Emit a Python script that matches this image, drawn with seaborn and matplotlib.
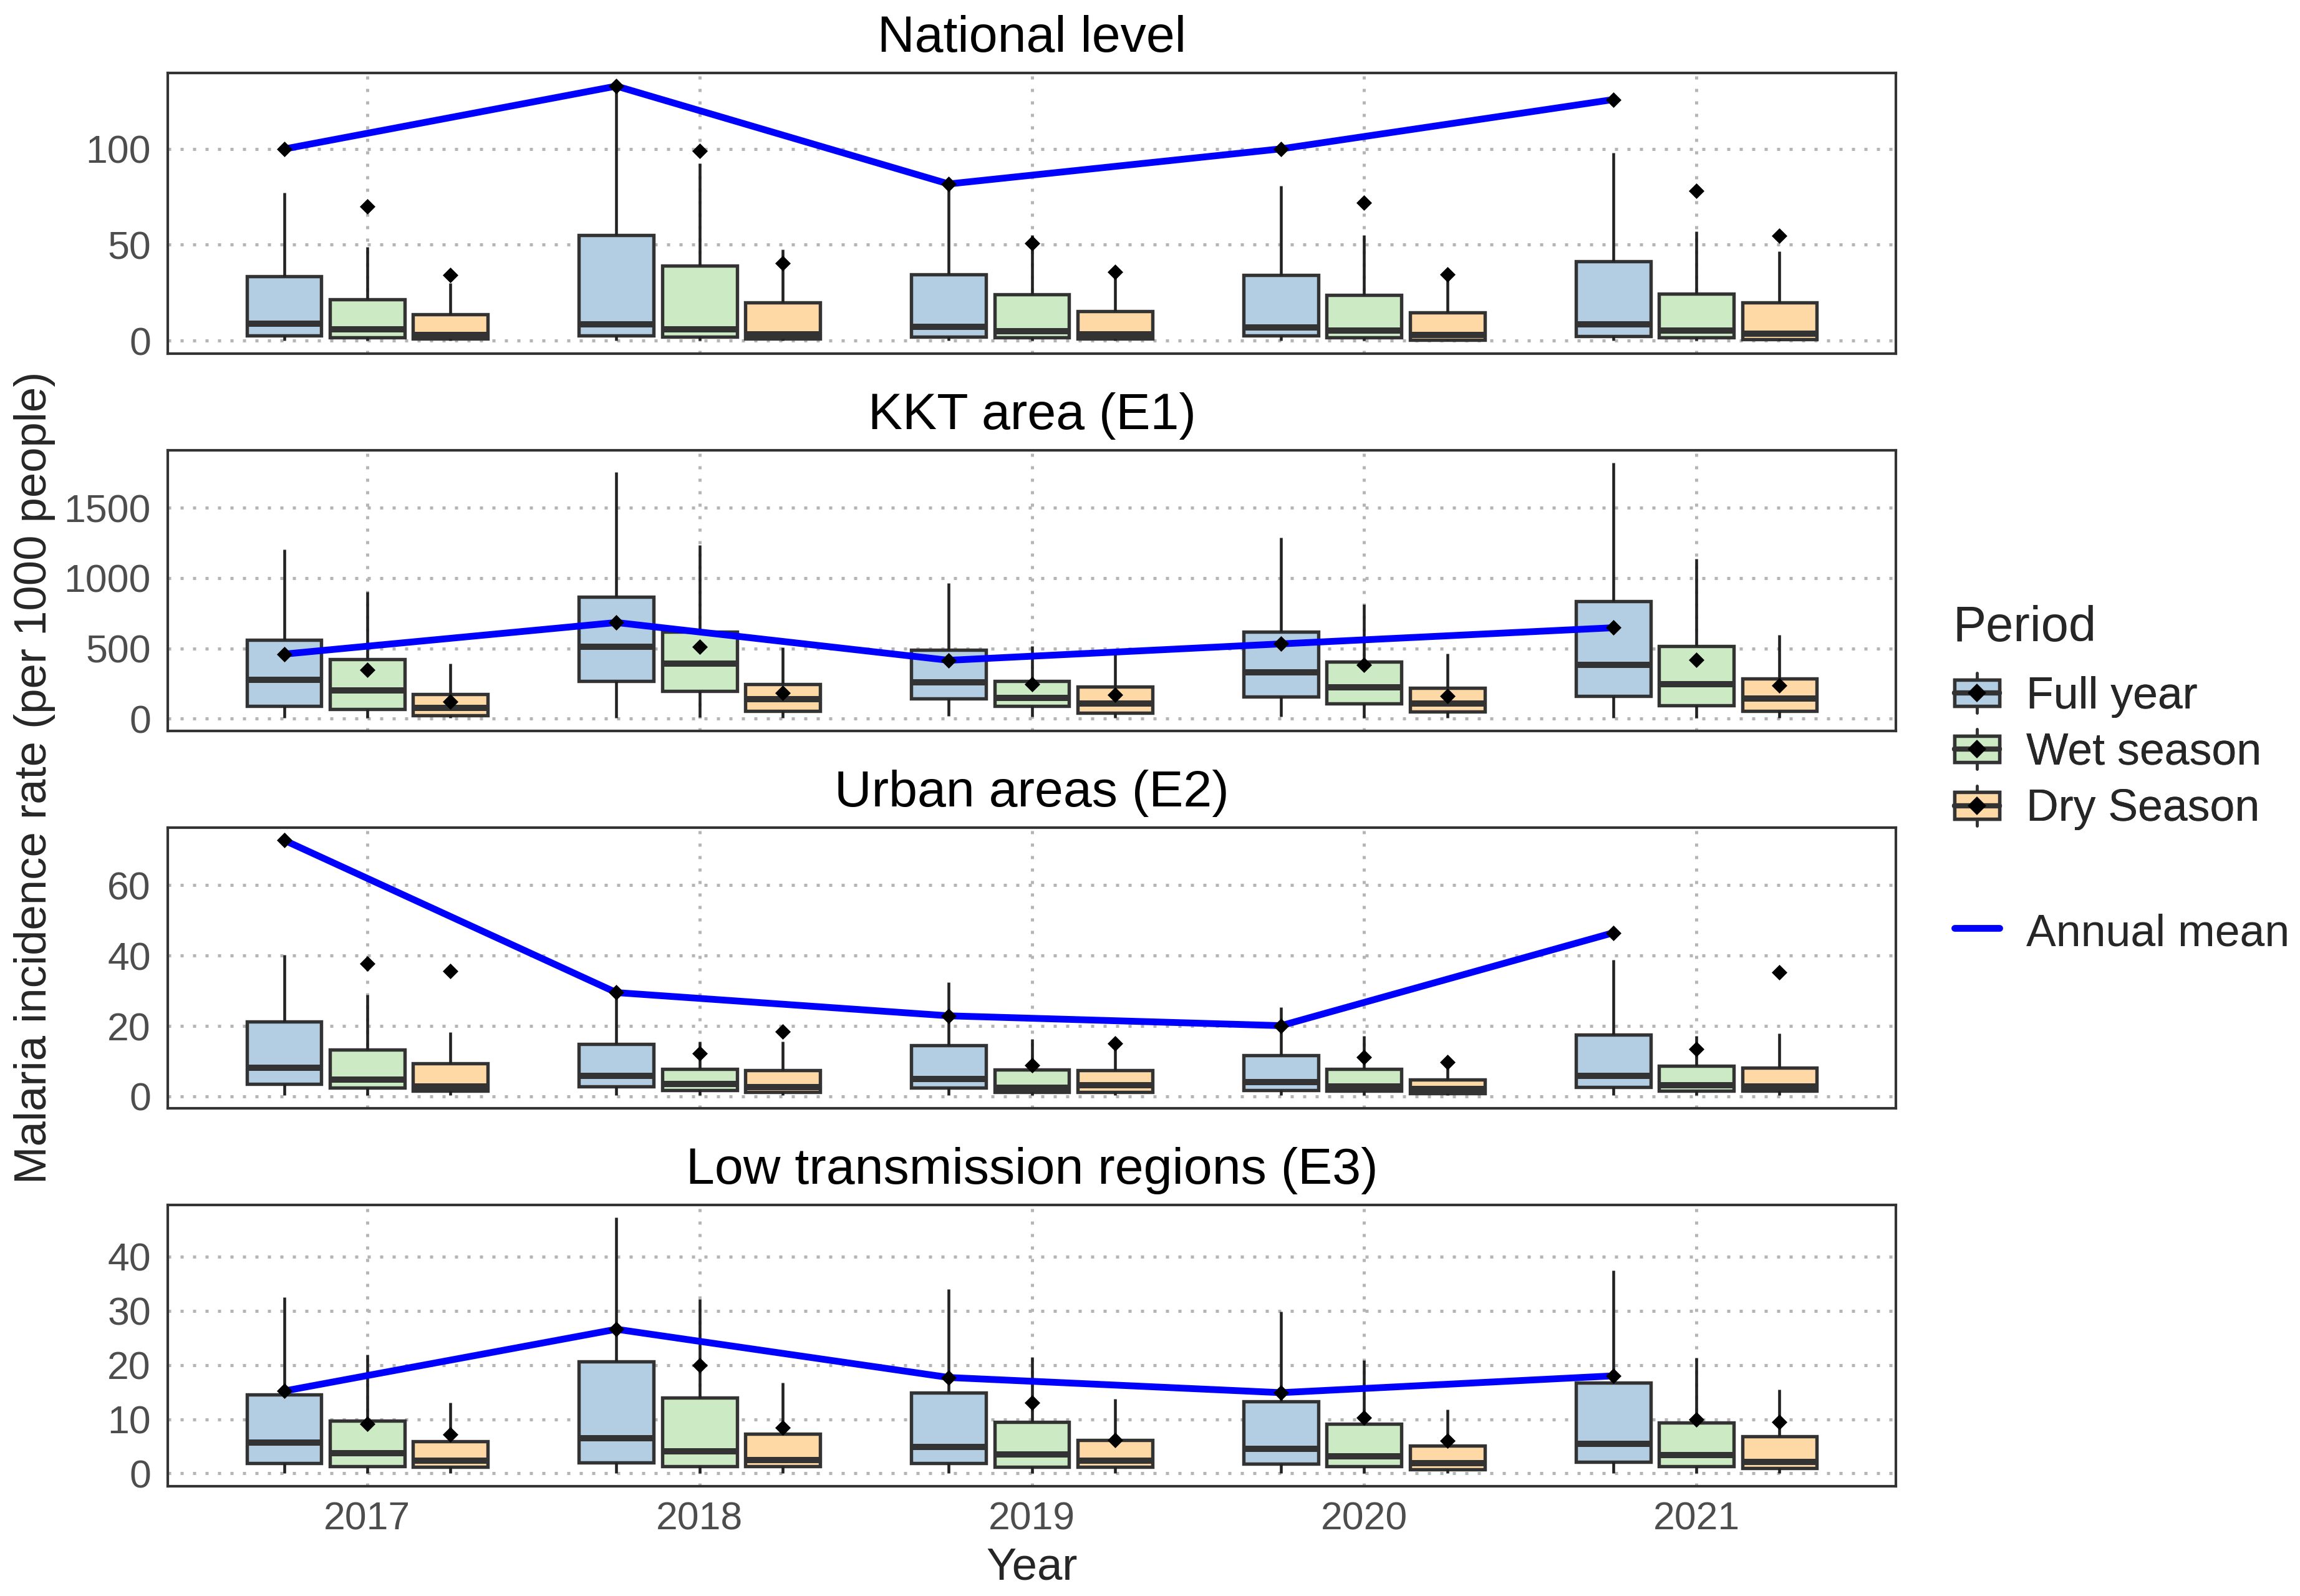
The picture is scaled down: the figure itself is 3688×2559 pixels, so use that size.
import numpy as np
import pandas as pd
import matplotlib
matplotlib.use("Agg")
import matplotlib.pyplot as plt
import seaborn as sns
from matplotlib.legend_handler import HandlerBase
from matplotlib.patches import Rectangle, Patch
from matplotlib.lines import Line2D

# ---------------- data ----------------
years = ["2017", "2018", "2019", "2020", "2021"]
periods = ["Full year", "Wet season", "Dry Season"]
colors = ["#B3CDE3", "#CCEBC5", "#FED9A6"]
titles = ["National level", "KKT area (E1)", "Urban areas (E2)", "Low transmission regions (E3)"]

# rows: Full year, Wet season, Dry Season ; cols: 2017..2021
nat_lo = [[0, 0, 0, 0, 0], [0, 0, 0, 0, 0], [0, 0, 0, 0, 0]]
nat_q1 = [[2.7, 2.7, 2.1, 2.7, 2.5], [1.8, 2.1, 1.6, 1.6, 1.6], [1.0, 1.0, 1.0, 0.5, 0.7]]
nat_med = [[8.9, 8.5, 7.2, 7.0, 8.5], [5.9, 5.9, 4.8, 5.3, 5.3], [3.0, 3.2, 3.2, 2.9, 3.7]]
nat_q3 = [[33.7, 55.0, 34.5, 34.2, 41.5], [21.4, 39.2, 24.0, 23.8, 24.4], [13.6, 20.0, 15.5, 14.7, 19.8]]
nat_hi = [[77.2, 133.0, 81.0, 80.7, 97.8], [49.0, 92.4, 55.0, 55.0, 57.0], [30.0, 47.5, 36.5, 36.0, 46.5]]
nat_mean = [[99.9, 132.7, 81.7, 100.0, 125.7], [70.0, 99.0, 50.7, 72.0, 78.0], [34.2, 40.3, 35.8, 34.5, 54.7]]

kkt_lo = [[7, 7, 18, 15, 7], [7, 10, 12, 7, 7], [4, 7, 7, 7, 7]]
kkt_q1 = [[88, 265, 143, 154, 159], [66, 196, 88, 107, 93], [25, 54, 40, 51, 54]]
kkt_med = [[275, 512, 257, 328, 381], [201, 390, 147, 221, 246], [78, 140, 107, 107, 143]]
kkt_q3 = [[559, 868, 490, 620, 834], [422, 618, 265, 407, 515], [176, 243, 225, 218, 287]]
kkt_hi = [[1203, 1757, 963, 1287, 1821], [904, 1235, 515, 812, 1137], [390, 507, 463, 463, 596]]
kkt_mean = [[459, 684, 415, 532, 647], [346, 510, 246, 382, 419], [122, 181, 169, 159, 235]]

urb_lo = [[0.3, 0.3, 0.3, 0.3, 0.3], [0.3, 0.3, 0.3, 0.3, 0.3], [0.3, 0.3, 0.3, 0.3, 0.3]]
urb_q1 = [[3.5, 2.8, 2.4, 1.8, 2.6], [2.4, 1.8, 1.2, 1.5, 1.6], [1.6, 1.2, 1.2, 0.9, 1.5]]
urb_med = [[8.2, 5.9, 4.9, 4.1, 5.9], [4.7, 3.5, 2.4, 2.9, 3.2], [2.9, 2.6, 3.2, 2.1, 2.9]]
urb_q3 = [[21.2, 14.9, 14.5, 11.6, 17.5], [13.2, 7.8, 7.6, 7.8, 8.6], [9.4, 7.5, 7.5, 4.7, 8.2]]
urb_hi = [[40.3, 29.5, 32.4, 25.3, 38.8], [28.8, 15.6, 16.3, 17.2, 17.1], [18.2, 15.6, 16.3, 11.5, 17.9]]
urb_mean = [[72.8, 29.5, 22.9, 20.1, 46.5], [37.8, 12.2, 8.9, 11.2, 13.4], [35.6, 18.4, 15.0, 9.7, 35.3]]

low_lo = [[0, 0, 0, 0, 0], [0, 0, 0, 0, 0], [0, 0, 0, 0, 0]]
low_q1 = [[1.9, 2.0, 1.9, 1.8, 2.1], [1.3, 1.3, 1.2, 1.3, 1.3], [1.2, 1.3, 1.2, 0.8, 1.0]]
low_med = [[5.7, 6.5, 4.9, 4.5, 5.5], [3.7, 4.1, 3.5, 3.2, 3.4], [2.3, 2.5, 2.3, 1.9, 2.1]]
low_q3 = [[14.5, 20.6, 14.9, 13.3, 16.7], [9.7, 14.0, 9.5, 9.2, 9.4], [5.9, 7.3, 6.2, 5.1, 6.8]]
low_hi = [[32.5, 47.2, 34.0, 29.8, 37.5], [21.9, 32.1, 21.4, 20.9, 21.3], [13.1, 16.7, 13.8, 11.8, 15.5]]
low_mean = [[15.2, 26.6, 17.7, 14.9, 18.0], [9.1, 20.0, 13.1, 10.3, 9.9], [7.2, 8.4, 6.1, 6.0, 9.5]]

nat_ticks = [0, 50, 100]
kkt_ticks = [0, 500, 1000, 1500]
urb_ticks = [0, 20, 40, 60]
low_ticks = [0, 10, 20, 30, 40]

panels = [
    (titles[0], (nat_lo, nat_q1, nat_med, nat_q3, nat_hi), nat_mean, nat_ticks),
    (titles[1], (kkt_lo, kkt_q1, kkt_med, kkt_q3, kkt_hi), kkt_mean, kkt_ticks),
    (titles[2], (urb_lo, urb_q1, urb_med, urb_q3, urb_hi), urb_mean, urb_ticks),
    (titles[3], (low_lo, low_q1, low_med, low_q3, low_hi), low_mean, low_ticks),
]

# ---------------- style ----------------
sns.set_style("white")
plt.rcParams["font.family"] = ["Liberation Sans", "DejaVu Sans"]

EDGE = "#333333"
TICKC = "#4D4D4D"
BLUE = "#0000FF"

W, H = 3688, 2559
fig = plt.figure(figsize=(W / 300, H / 300), dpi=300)

left = 269 / W
right = 3040 / W
tops_px = [116.7, 721.7, 1326.7, 1931.7]
bots_px = [566.7, 1171.7, 1776.7, 2383.0]

BOX_WIDTH = 0.75
offsets = (np.arange(len(periods)) - (len(periods) - 1) / 2) * BOX_WIDTH / len(periods)

for i, (title, stats, means, ticks) in enumerate(panels):
    bottom = 1 - bots_px[i] / H
    height = (bots_px[i] - tops_px[i]) / H
    ax = fig.add_axes([left, bottom, right - left, height])

    rows = []
    for p, per in enumerate(periods):
        for y, yr in enumerate(years):
            for arr in stats:
                rows.append((yr, per, arr[p][y]))
    df = pd.DataFrame(rows, columns=["Year", "Period", "Rate"])

    sns.boxplot(data=df, x="Year", y="Rate", hue="Period", order=years,
                hue_order=periods, palette=colors, saturation=1,
                width=BOX_WIDTH, gap=0.1, whis=(0, 100), showcaps=False,
                showfliers=False, linecolor=EDGE, linewidth=1.3,
                medianprops=dict(linewidth=2.4, color=EDGE),
                whiskerprops=dict(linewidth=1.1, color="#222222"),
                legend=False, ax=ax, zorder=2)

    mrows = []
    for p, per in enumerate(periods):
        for y, yr in enumerate(years):
            mrows.append((y + offsets[p], per, means[p][y]))
    mdf = pd.DataFrame(mrows, columns=["x", "Period", "Mean"])

    sns.lineplot(data=mdf[mdf["Period"] == periods[0]], x="x", y="Mean",
                 color=BLUE, linewidth=2.6, sort=False, legend=False,
                 ax=ax, zorder=4)
    sns.scatterplot(data=mdf, x="x", y="Mean", marker="D", color="black",
                    s=18, linewidth=0, legend=False, ax=ax, zorder=5)

    allv = np.concatenate([np.ravel(a) for a in stats] + [np.ravel(means)])
    lo, hi = allv.min(), allv.max()
    pad = (hi - lo) * 0.05
    ax.set_ylim(lo - pad, hi + pad)
    ax.set_xlim(-0.6, len(years) - 0.4)
    ax.set_yticks(ticks)
    ax.set_yticklabels([str(t) for t in ticks])
    ax.set_xticks(range(len(years)))
    if i == len(panels) - 1:
        ax.set_xticklabels(years)
    else:
        ax.set_xticklabels([])
    ax.set_xlabel("")
    ax.set_ylabel("")
    ax.grid(True, color="#B5B5B5", linestyle=(0, (1, 3)), linewidth=1.2)
    ax.set_axisbelow(True)
    for s in ax.spines.values():
        s.set_visible(True)
        s.set_color(EDGE)
        s.set_linewidth(1.0)
    ax.tick_params(axis="both", length=0, labelsize=15, labelcolor=TICKC)
    ax.tick_params(axis="y", pad=6.5)
    ax.tick_params(axis="x", pad=5.7)
    ax.set_title(title, fontsize=19.8, pad=8, color="black")

# ---------------- labels ----------------
fig.text(56 / W, 1 - 1247 / H, "Malaria incidence rate (per 1000 people)",
         rotation=90, ha="center", va="center", fontsize=17.4)
fig.text((left + right) / 2, 1 - 2514 / H, "Year", ha="center", va="center",
         fontsize=17.4)


# ---------------- legend ----------------
class BoxHandler(HandlerBase):
    def create_artists(self, legend, orig_handle, xdescent, ydescent,
                       width, height, fontsize, trans):
        fc = orig_handle.get_facecolor()
        x0, y0 = -xdescent, -ydescent
        cx, cy = x0 + width / 2, y0 + height / 2
        bh = height * 0.66
        wl = Line2D([cx, cx], [y0, y0 + height], color=EDGE, lw=1.1, transform=trans)
        rect = Rectangle((x0, cy - bh / 2), width, bh, facecolor=fc,
                         edgecolor=EDGE, lw=1.3, transform=trans)
        ml = Line2D([x0, x0 + width], [cy, cy], color=EDGE, lw=2.0, transform=trans)
        dm = Line2D([cx], [cy], marker="D", ms=4.2, color="black", lw=0,
                    transform=trans)
        return [wl, rect, ml, dm]


box_handles = [Patch(facecolor=c) for c in colors]
leg1 = fig.legend(handles=box_handles, labels=periods,
                  handler_map={Patch: BoxHandler()}, loc="upper left",
                  bbox_to_anchor=(3134 / W, 1 - 1079 / H), frameon=False,
                  fontsize=17.2, handlelength=1.0, handleheight=1.0,
                  handletextpad=0.6, labelspacing=0.26, borderpad=0,
                  borderaxespad=0)
fig.add_artist(leg1)
line_handle = Line2D([0], [1], color=BLUE, lw=2.6)
fig.legend(handles=[line_handle], labels=["Annual mean"], loc="upper left",
           bbox_to_anchor=(3134 / W, 1 - 1460 / H), frameon=False,
           fontsize=17.2, handlelength=1.0, handleheight=1.0,
           handletextpad=0.6, borderpad=0, borderaxespad=0)
fig.text(3131 / W, 1 - 1028 / H, "Period", ha="left", va="baseline",
         fontsize=19.1)

fig.savefig("out.png", dpi=300)
